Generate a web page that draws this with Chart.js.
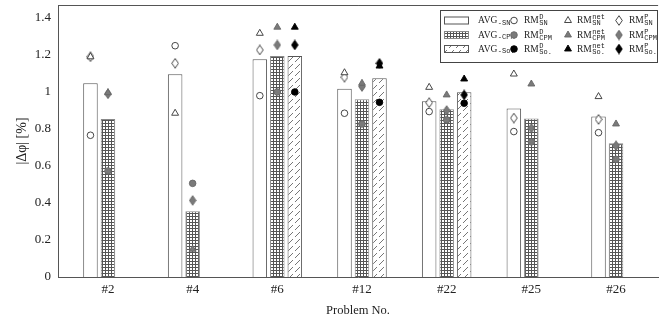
<!DOCTYPE html>
<html>
<head>
<meta charset="utf-8">
<script src="https://cdn.jsdelivr.net/npm/chart.js"></script>
<style>
  html, body { margin: 0; padding: 0; background: #fff; }
  #wrap { width: 663px; height: 322px; }
</style>
</head>
<body>
<div id="wrap"><canvas id="chart"></canvas></div>
<script>
const problems = ['#2', '#4', '#6', '#12', '#22', '#25', '#26'];
const yTicks = [0, 0.2, 0.4, 0.6, 0.8, 1, 1.2, 1.4];

// average bars
const avgSN  = [1.047, 1.096, 1.177, 1.018, 0.950, 0.910, 0.867];
const avgCPM = [0.854, 0.355, 1.195, 0.960, 0.906, 0.856, 0.723];
const avgSo  = [null,  null,  1.195, 1.074, 0.998, null,  null];

// RM^D (circles)
const rmDSN  = [0.766, 1.250, 0.980, 0.885, 0.894, 0.786, 0.780];
const rmDCPM = [0.573, 0.506, 1.000, 0.827, 0.849, 0.730, 0.636];
const rmDSo  = [null,  null,  1.000, 0.944, 0.939, null,  null];

// RM^net (triangles)
const rmNetSN  = [1.190, 0.885, 1.317, 1.104, 1.025, 1.097, 0.975];
const rmNetCPM = [0.996, 0.150, 1.350, 1.047, 0.984, 1.043, 0.827];
const rmNetSo  = [null,  null,  1.350, 1.140, 1.070, null,  null];

// RM^P (diamonds)
const rmPSN  = [1.190, 1.155, 1.227, 1.080, 0.942, 0.859, 0.852];
const rmPCPM = [0.990, 0.414, 1.254, 1.029, 0.900, 0.804, 0.710];
const rmPSo  = [null,  null,  1.254, 1.155, 0.984, null,  null];

const serif = "'Liberation Serif', serif";
const mono = "'Liberation Mono', monospace";
const axisColor = '#555';
const grayFill = '#7a7a7a';

const canvas = document.getElementById('chart');
const mainCtx = canvas.getContext('2d');

// fill patterns
function makeDots() {
  const t = document.createElement('canvas');
  t.width = 3; t.height = 3;
  const c = t.getContext('2d');
  c.fillStyle = '#fff';
  c.fillRect(0, 0, 3, 3);
  c.fillStyle = '#555';
  c.fillRect(0, 0, 3, 1);
  c.fillRect(0, 0, 1, 3);
  return mainCtx.createPattern(t, 'repeat');
}
function makeHatch() {
  const t = document.createElement('canvas');
  t.width = 7; t.height = 7;
  const c = t.getContext('2d');
  c.fillStyle = '#fff';
  c.fillRect(0, 0, 7, 7);
  c.strokeStyle = '#666';
  c.lineWidth = 0.9;
  c.beginPath();
  c.moveTo(1, 6); c.lineTo(6, 1);
  c.stroke();
  return mainCtx.createPattern(t, 'repeat');
}
const dotsPattern = makeDots();
const hatchPattern = makeHatch();

function diamondImg(fill, stroke) {
  const t = document.createElement('canvas');
  t.width = 8; t.height = 11;
  const c = t.getContext('2d');
  c.beginPath();
  c.moveTo(4, 0.7); c.lineTo(7.3, 5.5); c.lineTo(4, 10.3); c.lineTo(0.7, 5.5);
  c.closePath();
  c.fillStyle = fill; c.fill();
  c.strokeStyle = stroke; c.lineWidth = 0.9; c.stroke();
  return t;
}

const solvers = [
  { fill: '#fff', stroke: '#333' },
  { fill: grayFill, stroke: '#666' },
  { fill: '#000', stroke: '#000' }
];
solvers.forEach(s => { s.diamond = diamondImg(s.fill, s.stroke); });

const catPct = 0.62;
const slotOffset = [-catPct / 3, 0, catPct / 3];

function barSet(label, values, bg, border) {
  return {
    type: 'bar',
    label: label,
    data: values.map((v, i) => ({ x: i, y: v })),
    backgroundColor: bg,
    borderColor: border,
    borderWidth: 1,
    categoryPercentage: catPct,
    barPercentage: 0.83,
    order: 2
  };
}

function markSet(label, values, slot, style) {
  const s = solvers[slot];
  return {
    type: 'scatter',
    label: label,
    data: values.map((v, i) => ({ x: i + slotOffset[slot], y: v })),
    pointStyle: style === 'diamond' ? s.diamond : style,
    pointRadius: style === 'triangle' ? 4 : 3.3,
    pointBackgroundColor: s.fill,
    pointBorderColor: s.stroke,
    pointBorderWidth: 0.9,
    showLine: false,
    order: 1
  };
}

// legend drawn by hand (4 columns x 3 rows, with sub/superscripts)
function drawMarker(ctx, style, slot, x, y) {
  const s = solvers[slot];
  if (style === 'diamond') {
    ctx.drawImage(s.diamond, x - 4, y - 5.5);
    return;
  }
  ctx.beginPath();
  if (style === 'circle') {
    ctx.arc(x, y, 3.3, 0, Math.PI * 2);
  } else {
    const r = 4;
    ctx.moveTo(x, y - r);
    ctx.lineTo(x + r * 0.866, y + r / 2);
    ctx.lineTo(x - r * 0.866, y + r / 2);
    ctx.closePath();
  }
  ctx.fillStyle = s.fill; ctx.fill();
  ctx.strokeStyle = s.stroke; ctx.lineWidth = 0.9; ctx.stroke();
}

function drawRich(ctx, x, y, base, sup, sub) {
  ctx.textBaseline = 'middle';
  ctx.textAlign = 'left';
  ctx.fillStyle = '#222';
  ctx.font = '9.5px ' + serif;
  ctx.fillText(base, x, y);
  const w = ctx.measureText(base).width + 0.5;
  ctx.font = '7px ' + mono;
  if (sup) ctx.fillText(sup, x + w, y - 3);
  if (sub) ctx.fillText(sub, x + w, sup ? y + 3 : y + 2.5);
}

const legendPlugin = {
  id: 'boxLegend',
  afterDraw(chart) {
    const ctx = chart.ctx;
    const area = chart.chartArea;
    ctx.save();
    // top frame line
    ctx.strokeStyle = axisColor;
    ctx.lineWidth = 1;
    ctx.beginPath();
    ctx.moveTo(area.left, area.top + 0.5);
    ctx.lineTo(area.right, area.top + 0.5);
    ctx.stroke();

    const bx = 440.5, by = 10.5, bw = 217, bh = 52;
    ctx.fillStyle = '#fff';
    ctx.fillRect(bx, by, bw, bh);
    ctx.strokeStyle = '#444';
    ctx.strokeRect(bx, by, bw, bh);

    const rows = [20.5, 35, 49];
    const subs = ['SN', 'CPM', 'So.'];
    const swatch = [
      { bg: '#fff', border: '#555' },
      { bg: dotsPattern, border: '#888' },
      { bg: hatchPattern, border: '#555' }
    ];
    rows.forEach((ry, k) => {
      ctx.fillStyle = swatch[k].bg;
      ctx.fillRect(444, ry - 3.5, 24, 7);
      ctx.strokeStyle = swatch[k].border;
      ctx.lineWidth = 1;
      ctx.strokeRect(444.5, ry - 3.5, 24, 7);
      drawRich(ctx, 478, ry, 'AVG', null, '-' + subs[k]);

      drawMarker(ctx, 'circle', k, 514, ry);
      drawRich(ctx, 524, ry, 'RM', 'D', subs[k]);
      drawMarker(ctx, 'triangle', k, 568, ry);
      drawRich(ctx, 577, ry, 'RM', 'net', subs[k]);
      drawMarker(ctx, 'diamond', k, 619, ry);
      drawRich(ctx, 629, ry, 'RM', 'P', subs[k]);
    });
    ctx.restore();
  }
};

function noPad(s) {
  s.paddingTop = 0; s.paddingBottom = 0;
  s.paddingLeft = 0; s.paddingRight = 0;
}

const config = {
  type: 'bar',
  data: {
    datasets: [
      markSet('RM^D SN', rmDSN, 0, 'circle'),
      markSet('RM^net SN', rmNetSN, 0, 'triangle'),
      markSet('RM^P SN', rmPSN, 0, 'diamond'),
      markSet('RM^D CPM', rmDCPM, 1, 'circle'),
      markSet('RM^net CPM', rmNetCPM, 1, 'triangle'),
      markSet('RM^P CPM', rmPCPM, 1, 'diamond'),
      markSet('RM^D So.', rmDSo, 2, 'circle'),
      markSet('RM^net So.', rmNetSo, 2, 'triangle'),
      markSet('RM^P So.', rmPSo, 2, 'diamond'),
      barSet('AVG-SN', avgSN, '#fff', '#555'),
      barSet('AVG-CPM', avgCPM, dotsPattern, '#888'),
      barSet('AVG-So.', avgSo, hatchPattern, '#555')
    ]
  },
  options: {
    responsive: true,
    maintainAspectRatio: false,
    animation: false,
    devicePixelRatio: 1,
    layout: { padding: { top: 5, right: 0, left: 0, bottom: 0 } },
    plugins: {
      legend: { display: false },
      tooltip: { enabled: false }
    },
    scales: {
      x: {
        type: 'linear',
        offset: false,
        min: -0.59,
        max: 6.497,
        grid: { display: false, drawTicks: false },
        border: { color: axisColor, width: 1 },
        afterBuildTicks: (s) => { s.ticks = problems.map((p, i) => ({ value: i })); },
        afterFit: (s) => { s.height = 45; noPad(s); },
        ticks: {
          callback: (v) => problems[v] || '',
          font: { family: serif, size: 13 },
          color: '#222',
          padding: 5,
          maxRotation: 0,
          autoSkip: false
        },
        title: {
          display: true,
          text: 'Problem No.',
          font: { family: serif, size: 12.5 },
          color: '#222',
          padding: { top: 0, bottom: 4 }
        }
      },
      y: {
        min: 0,
        max: 1.47,
        grid: { display: false, drawTicks: false },
        border: { color: axisColor, width: 1 },
        afterBuildTicks: (s) => { s.ticks = yTicks.map(v => ({ value: v })); },
        afterFit: (s) => { s.width = 58; noPad(s); },
        ticks: {
          callback: (v) => String(+v.toFixed(1)),
          font: { family: serif, size: 13 },
          color: '#222',
          padding: 7
        },
        title: {
          display: true,
          text: '|Δφ| [%]',
          font: { family: serif, size: 14 },
          color: '#222',
          padding: { top: 14, bottom: 0 }
        }
      }
    }
  },
  plugins: [legendPlugin]
};

let chart = new Chart(canvas, config);
</script>
</body>
</html>
